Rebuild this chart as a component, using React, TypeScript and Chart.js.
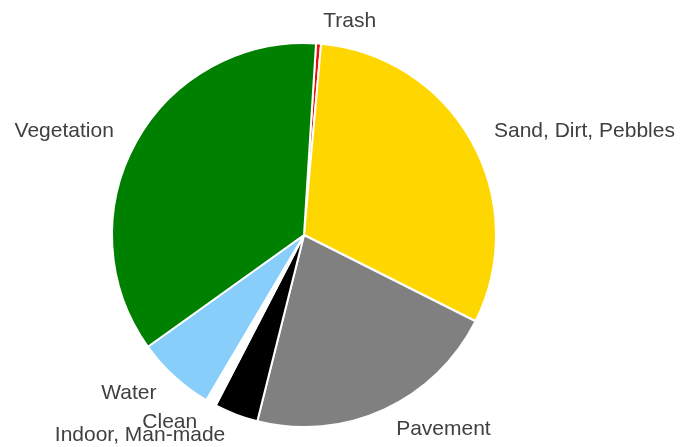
import React, { useEffect, useRef } from "react";
import { Chart, registerables } from "chart.js";

Chart.register(...registerables);

const categories = ["Trash", "Sand, Dirt, Pebbles", "Pavement", "Indoor, Man-made", "Clean", "Water", "Vegetation"];
const values = [0.42, 31.0, 21.5, 3.7, 0.9, 6.6, 35.9];
const colors = ["#e8100f", "#ffd700", "#808080", "#000000", "#ffffff", "#87cefa", "#008000"];

const outsideLabels = {
  id: "outsideLabels",
  afterDraw(chart: any) {
    const ctx = chart.ctx;
    const meta = chart.getDatasetMeta(0);
    ctx.save();
    ctx.font = '21px "Liberation Sans", Arial, sans-serif';
    ctx.fillStyle = "#404040";
    ctx.textBaseline = "middle";
    meta.data.forEach((arc: any, i: number) => {
      const p = arc.getProps(["x", "y", "startAngle", "endAngle", "outerRadius"], true);
      const mid = (p.startAngle + p.endAngle) / 2;
      const r = p.outerRadius + 22;
      const x = p.x + Math.cos(mid) * r;
      const y = p.y + Math.sin(mid) * r;
      const right = Math.cos(mid) >= 0;
      ctx.textAlign = right ? "left" : "right";
      ctx.fillText(categories[i], x + (right ? 3 : -3), y);
    });
    ctx.restore();
  },
};

export default function App() {
  const ref = useRef<HTMLCanvasElement>(null);
  useEffect(() => {
    if (!ref.current) return;
    const chart = new Chart(ref.current, {
      type: "pie",
      data: {
        labels: categories,
        datasets: [
          {
            data: values,
            backgroundColor: colors,
            borderColor: "#ffffff",
            borderWidth: 2,
          },
        ],
      },
      options: {
        responsive: false,
        animation: false,
        rotation: 3.6,
        layout: { padding: { left: 111, right: 186, top: 42, bottom: 19 } },
        plugins: {
          legend: { display: false },
          tooltip: { enabled: false },
        },
      },
      plugins: [outsideLabels],
    });
    return () => chart.destroy();
  }, []);
  return (
    <div style={{ position: "fixed", left: 0, top: 0, width: 683, height: 447, background: "#fff" }}>
      <canvas ref={ref} width={683} height={447} />
    </div>
  );
}
